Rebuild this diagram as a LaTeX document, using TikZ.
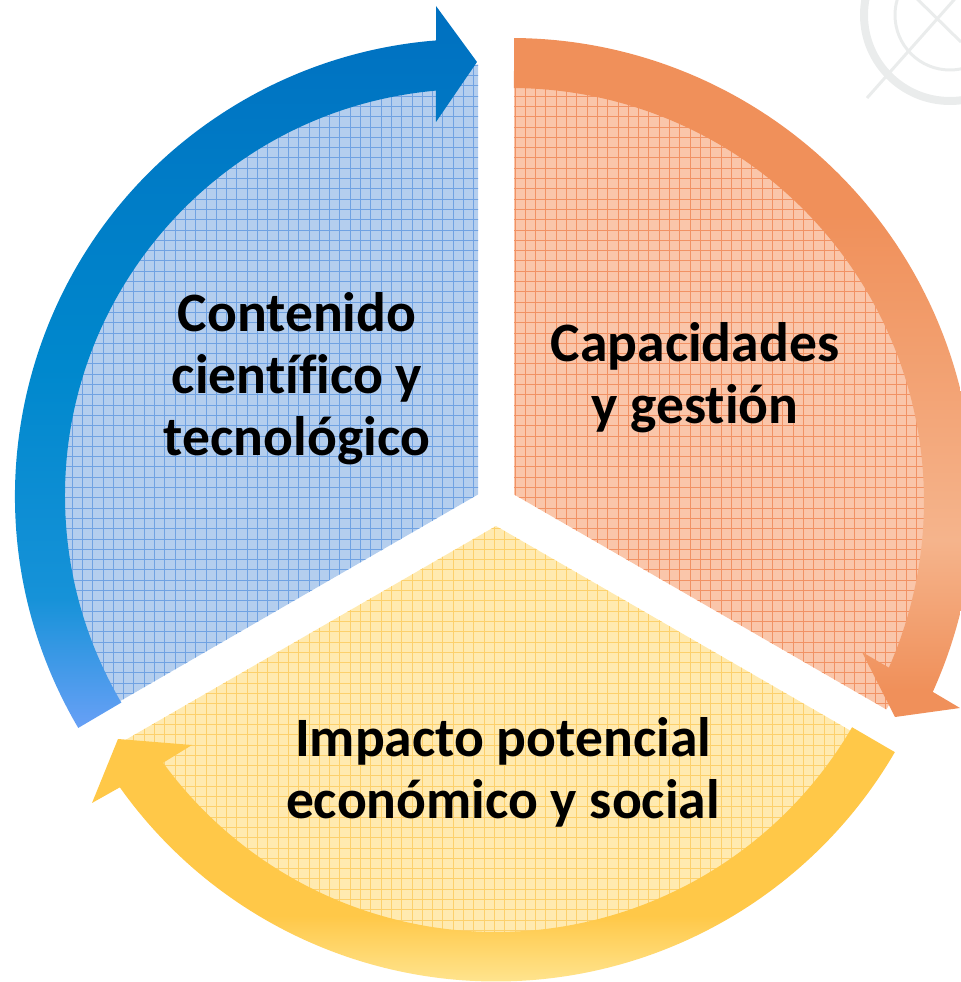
\documentclass[tikz,border=0pt]{standalone}
\usepackage{fontspec}
\setmainfont[Ligatures=NoCommon]{Carlito}

\definecolor{bluefill}{RGB}{180,206,238}
\definecolor{bluegrid}{RGB}{112,162,226}
\definecolor{orangefill}{RGB}{250,198,170}
\definecolor{orangegrid}{RGB}{241,146,100}
\definecolor{yellowfill}{RGB}{255,234,176}
\definecolor{yellowgrid}{RGB}{252,208,108}
\definecolor{wmark}{RGB}{234,236,236}

\definecolor{bluedark}{RGB}{0,112,192}
\definecolor{bluemid}{RGB}{0,136,205}
\definecolor{bluelow}{RGB}{22,146,216}
\definecolor{bluelight}{RGB}{104,160,246}
\definecolor{orangedark}{RGB}{240,144,90}
\definecolor{orangelight}{RGB}{245,180,140}
\definecolor{yellowdark}{RGB}{255,200,72}
\definecolor{yellowlight}{RGB}{255,228,142}

\pgfdeclareverticalshading{blueband}{100bp}{color(0bp)=(bluelight); color(25bp)=(bluelight);
  color(34bp)=(bluelow); color(50bp)=(bluemid); color(75bp)=(bluedark); color(100bp)=(bluedark)}
\pgfdeclareverticalshading{orangeband}{100bp}{color(0bp)=(orangedark); color(27bp)=(orangedark);
  color(38bp)=(orangelight); color(62bp)=(orangedark); color(100bp)=(orangedark)}
\pgfdeclareverticalshading{yellowband}{100bp}{color(0bp)=(yellowlight); color(25bp)=(yellowlight);
  color(38bp)=(yellowdark); color(100bp)=(yellowdark)}

\begin{document}
\begin{tikzpicture}[x=0.5pt,y=0.5pt,
    sector text/.style={font=\bfseries\fontsize{27.8}{31}\selectfont,align=center,inner sep=0pt},
    gridline/.style={line width=0.5pt}]
  \useasboundingbox (0,0) rectangle (961,982);

  % faint background mark
  \draw[wmark,line width=4pt] (950,967) circle[radius=86];
  \draw[wmark,line width=1.5pt] (950,967) circle[radius=55];
  \draw[wmark,line width=1.5pt] (867,884) -- (961,990);
  \draw[wmark,line width=1.5pt] (905,995) -- (961,940);

  % the three sectors
  \begin{scope}
    \clip (478,487.5) -- ++(90:430) arc[start angle=90,end angle=210,radius=430] -- cycle;
    \fill[bluefill] (0,0) rectangle (961,982);
    \draw[gridline,bluegrid,step=10.3] (0,0) grid (961,982);
  \end{scope}
  \begin{scope}
    \clip (514,487.5) -- ++(-30:430) arc[start angle=-30,end angle=90,radius=430] -- cycle;
    \fill[orangefill] (0,0) rectangle (961,982);
    \draw[gridline,orangegrid,step=10.3] (0,0) grid (961,982);
  \end{scope}
  \begin{scope}
    \clip (496,456) -- ++(210:430) arc[start angle=210,end angle=330,radius=430] -- cycle;
    \fill[yellowfill] (0,0) rectangle (961,982);
    \draw[gridline,yellowgrid,step=10.3] (0,0) grid (961,982);
  \end{scope}

  % the arrows round the sectors
  \begin{scope}[shift={(472,486)}]
    \shade[shading=blueband] (210.5:457) arc[start angle=210.5,end angle=94.5,radius=457]
      -- (-36,490) -- (5,434) -- (-36,374)
      -- (95.1:407) arc[start angle=95.1,end angle=210.5,radius=407] -- cycle;
  \end{scope}
  \begin{scope}[shift={(511,481)}]
    \shade[shading=orangeband] (89.6:463) arc[start angle=89.6,end angle=-24.35,radius=463]
      -- (449,-207) -- (384,-216) -- (351,-151)
      -- (-23.8:413) arc[start angle=-23.8,end angle=89.6,radius=413] -- cycle;
  \end{scope}
  \begin{scope}[shift={(496,462)}]
    \shade[shading=yellowband] (-30.2:461.5) arc[start angle=-30.2,end angle=-144.6,radius=461.5]
      -- (-404,-283) -- (-378,-219) -- (-304,-225)
      -- (-143.9:412) arc[start angle=-143.9,end angle=-30.2,radius=412] -- cycle;
  \end{scope}

  % labels
  \node[sector text] (contenido)   at (297,603) {Contenido\\científico y\\tecnológico};
  \node[sector text] (capacidades) at (695,604) {Capacidades\\y gestión};
  \node[sector text] (impacto)     at (503,210) {Impacto potencial\\económico y social};
\end{tikzpicture}
\end{document}
